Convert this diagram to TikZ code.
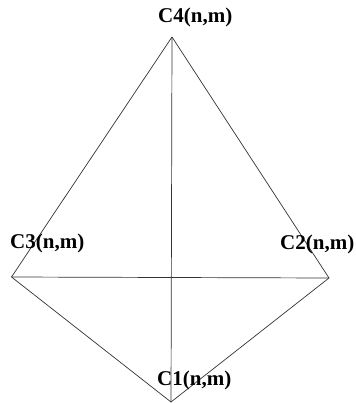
\documentclass[tikz,border=0pt]{standalone}
\usepackage{fontspec}
\setmainfont{Liberation Serif}
\begin{document}
\begin{tikzpicture}[x=1pt,y=-1pt,
  lbl/.style={anchor=base west,inner sep=0pt,font=\bfseries\fontsize{21}{25}\selectfont},
  edge/.style={draw=black!80,line width=0.7pt}]
\useasboundingbox (0,0) rectangle (355,403);
\coordinate (v4) at (172,37);
\coordinate (v3) at (11.5,277);
\coordinate (v2) at (329,278);
\coordinate (v1) at (171,402);
\draw[edge] (v4) -- (v3);
\draw[edge] (v4) -- (v2);
\draw[edge] (v4) -- (v1);
\draw[edge] (v3) -- (v2);
\draw[edge] (v3) -- (v1);
\draw[edge] (v2) -- (v1);
\node[lbl] (l4) at (158,23) {C4(n,m)};
\node[lbl] (l3) at (10,248) {C3(n,m)};
\node[lbl] (l2) at (280,249) {C2(n,m)};
\node[lbl] (l1) at (157,385) {C1(n,m)};
\end{tikzpicture}
\end{document}
